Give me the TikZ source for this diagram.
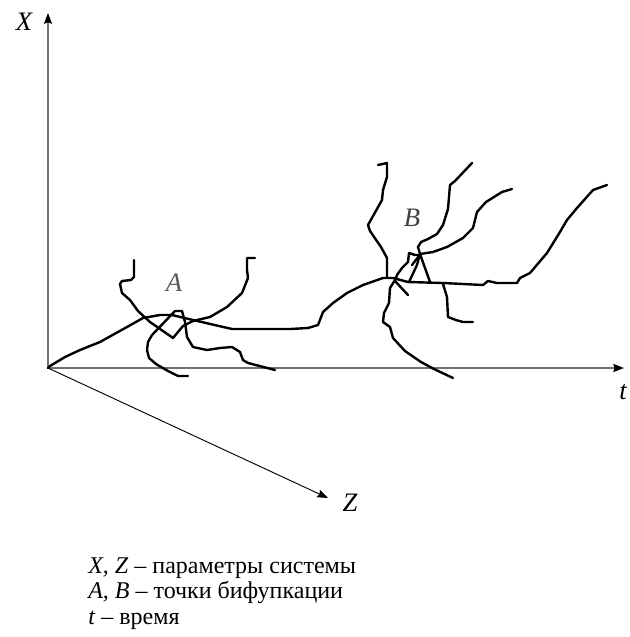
\documentclass[tikz,border=0pt]{standalone}
\usepackage{fontspec}
\setmainfont{Liberation Serif}
\usetikzlibrary{arrows.meta}
\begin{document}
\begin{tikzpicture}[x=0.75pt,y=-0.75pt,
  axis/.style={draw=black!55,line width=1.3pt},
  zaxis/.style={draw=black,line width=0.7pt},
  tip/.style={-{Stealth[length=8pt,width=6pt,inset=1pt,black]}},
  branch/.style={draw=black,line width=1.8pt,line join=round,line cap=round},
  lbl/.style={font=\fontsize{20}{24}\selectfont\itshape,inner sep=0pt},
  legend/.style={font=\fontsize{18}{21}\selectfont,inner sep=0pt,anchor=base west}]
\useasboundingbox (0,0) rectangle (630,637);
% axes
\coordinate (O) at (48,368);
\coordinate (Xend) at (48,13);
\coordinate (Tend) at (624,368);
\coordinate (Zend) at (328,498);
\draw[axis,tip] (O) -- (Xend);
\draw[axis,tip] (O) -- (Tend);
\draw[zaxis,tip] (O) -- (Zend);
\node[lbl] (lX) at (24,22) {X};
\node[lbl] (lt) at (623,392) {t};
\node[lbl] (lZ) at (350,503) {Z};
\node[lbl,text=black!65] (lA) at (174,283) {A};
\node[lbl,text=black!75] (lB) at (412,218) {B};
% main curve
\draw[branch] (O) -- (50,366) -- (65,357) -- (80,350) -- (100,342) -- (127,327) -- (143,318)
  -- (160,315) -- (172,315) -- (193,320) -- (232,329) -- (290,329) -- (308,328) -- (318,325)
  -- (323,312) -- (333,303) -- (347,293) -- (363,285) -- (383,278) -- (393,278) -- (408,282)
  -- (443,283) -- (483,285) -- (488,281) -- (497,283) -- (517,283) -- (520,278) -- (530,273)
  -- (547,253) -- (560,232) -- (567,220) -- (577,208) -- (593,190) -- (607,185);
% branches at A
\draw[branch] (134,260) -- (134,277) -- (131,280) -- (122,281) -- (120,284) -- (122,293)
  -- (130,300) -- (138,311) -- (150,322) -- (163,331) -- (173,338) -- (183,326) -- (193,321)
  -- (210,317) -- (227,307) -- (242,293) -- (248,278) -- (247,270) -- (247,258) -- (255,258);
\draw[branch] (188,376) -- (178,376) -- (168,371) -- (156,364) -- (149,358) -- (147,350)
  -- (148,342) -- (152,335) -- (175,311) -- (182,311) -- (185,322) -- (187,337) -- (193,347)
  -- (207,350) -- (220,348) -- (232,347) -- (240,352) -- (243,360) -- (248,363) -- (275,370);
% branches at B
\draw[branch] (378,165) -- (387,163) -- (387,177) -- (383,190) -- (382,200) -- (368,225)
  -- (370,231) -- (381,247) -- (387,258) -- (387,278);
\draw[branch] (395,280) -- (390,288) -- (389,303) -- (384,313) -- (383,322) -- (390,327)
  -- (393,338) -- (405,351) -- (421,362) -- (434,369) -- (453,378);
\draw[branch] (409,253) -- (415,255) -- (420,255);
\draw[branch] (409,253) -- (408,262) -- (402,268) -- (397,275) -- (395,281) -- (408,295);
\draw[branch] (412,265) -- (419,256);
\draw[branch] (420,254) -- (417,265) -- (409,282);
\draw[branch] (420,254) -- (425,268) -- (430,282);
\draw[branch] (443,284) -- (447,297) -- (448,317) -- (456,320) -- (463,322) -- (473,322);
\draw[branch] (420,254) -- (418,247) -- (421,242) -- (428,239) -- (437,234) -- (443,225)
  -- (448,209) -- (450,185) -- (455,181) -- (472,163);
\draw[branch] (420,254) -- (433,252) -- (447,247) -- (463,238) -- (473,228) -- (477,212)
  -- (486,202) -- (502,192) -- (512,189);
% legend
\node[legend] (L1) at (88,573) {\textit{X, Z} – параметры системы};
\node[legend] (L2) at (88,598) {\textit{A, B} – точки бифупкации};
\node[legend] (L3) at (88,624) {\textit{t} – время};
\end{tikzpicture}
\end{document}
